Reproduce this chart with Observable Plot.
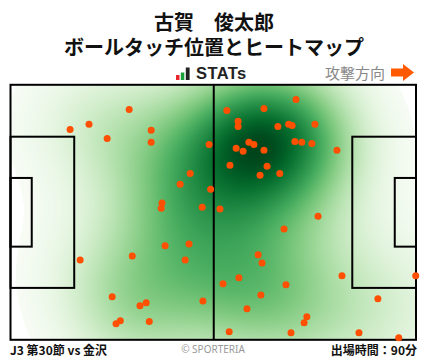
<!DOCTYPE html>
<html><head><meta charset="utf-8">
<script src="https://cdn.jsdelivr.net/npm/d3@7"></script>
<script src="https://cdn.jsdelivr.net/npm/@observablehq/plot@0.6"></script>
<style>
body{margin:0;background:#fff;font-family:"Noto Sans CJK JP","Noto Sans",sans-serif;}
#wrap{position:relative;width:428px;height:359px;overflow:hidden;background:#fff;}
.t{position:absolute;left:0;top:9px;width:428px;text-align:center;font-weight:700;font-size:20px;line-height:25px;color:#111;white-space:nowrap;}
#statsIcon{position:absolute;left:176px;top:66px;}
#statsText{position:absolute;left:196px;top:64px;font-family:"Liberation Sans",Arial,sans-serif;font-weight:700;font-size:16.5px;line-height:18px;letter-spacing:0.4px;color:#222;}
#dir{position:absolute;left:325px;top:63px;font-size:15px;line-height:19px;color:#888;}
#arrow{position:absolute;left:389px;top:62px;}
#chart{position:absolute;left:0;top:80px;}
.foot{position:absolute;top:342px;font-size:12px;line-height:15px;font-weight:700;color:#111;white-space:nowrap;}
#copy{position:absolute;top:343px;left:0;width:426px;text-align:center;font-family:"Noto Sans","DejaVu Sans",sans-serif;font-size:10px;line-height:13px;color:#999;}
</style></head>
<body><div id="wrap">
<div class="t">古賀　俊太郎<br>ボールタッチ位置とヒートマップ</div>
<svg id="statsIcon" width="15" height="15"><rect x="0" y="9" width="3.5" height="5" fill="#e8262b"/><rect x="4.8" y="6.5" width="3.5" height="7.5" fill="#1aa03c"/><rect x="9.8" y="1.5" width="3.8" height="12.5" fill="#222"/></svg>
<div id="statsText">STATs</div>
<div id="dir">攻撃方向</div>
<svg id="arrow" width="27" height="22"><polygon points="2,6.5 14,6.5 14,2 25,10.5 14,19 14,14.5 2,14.5" fill="#ff5a00"/></svg>
<div id="chart"></div>
<div class="foot" style="left:10px">J3 第30節 vs 金沢</div>
<div id="copy">© SPORTERIA</div>
<div class="foot" style="right:11px">出場時間：90分</div>
</div>
<script>
// Ball touch locations (pitch metres: x 0-105 attacking left→right, y 0-68 from top touchline)
const touchX = [30.6,15.3,20.2,24.9,36.3,36.3,51.3,46.4,43.8,51.7,39.1,38.9,49.5,
  73.8,55.9,65.5,58.8,58.8,69.1,71.9,72.8,78.7,61.6,62.9,58.3,60.1,65.5,73.5,75.3,77.9,84.4,
  56.7,66.3,64.5,69.6,54.1,79.5,39.9,46.1,17.9,31.4,45.1,26.2,33.4,35.0,49.7,28.3,27.2,35.8,
  70.7,64.0,65.0,54.9,59.0,71.2,64.7,85.7,104.8,95.0,61.1,76.6,75.9,56.5,72.5,90.1,100.4];
const touchY = [6.45,11.8,10.4,14.2,12.0,15.2,15.8,23.5,26.4,27.7,31.4,32.8,32.5,
  3.8,6.7,6.2,9.6,11.0,11.0,10.4,10.7,10.4,15.2,15.8,16.8,17.6,17.3,15.0,15.2,15.5,17.3,
  21.3,21.6,24.0,23.5,33.0,34.9,42.8,42.3,46.6,45.5,46.6,56.4,58.8,58.0,57.5,62.8,63.6,63.0,
  38.3,45.2,47.4,52.9,51.3,53.2,55.9,50.8,50.8,56.9,59.6,61.7,63.3,65.7,66.0,66.0,67.3];

// Pitch markings (metres)
const pitchLength = 105, pitchWidth = 68;
const pitchBoxes = [
  {x1:0, x2:105, y1:0, y2:68},
  {x1:0, x2:16.5, y1:13.84, y2:54.16},
  {x1:88.5, x2:105, y1:13.84, y2:54.16},
  {x1:0, x2:5.5, y1:24.84, y2:43.16},
  {x1:99.5, x2:105, y1:24.84, y2:43.16}
];
const halfwayLine = [52.5];
const bwAdjust = 1.25;

// Gaussian KDE (Scott's rule, full covariance)
const n = touchX.length;
const mx = d3.mean(touchX), my = d3.mean(touchY);
let sxx=0, syy=0, sxy=0;
for (let i=0;i<n;i++){const dx=touchX[i]-mx, dy=touchY[i]-my; sxx+=dx*dx; syy+=dy*dy; sxy+=dx*dy;}
sxx/=(n-1); syy/=(n-1); sxy/=(n-1);
const fac = Math.pow(n, -1/6)*bwAdjust;
const cxx=sxx*fac*fac, cyy=syy*fac*fac, cxy=sxy*fac*fac;
const det = cxx*cyy - cxy*cxy;
const ixx=cyy/det, iyy=cxx/det, ixy=-cxy/det;
const norm = 1/(n*2*Math.PI*Math.sqrt(det));
function kde(x,y){
  let s=0;
  for (let i=0;i<n;i++){const dx=x-touchX[i], dy=y-touchY[i]; s+=Math.exp(-0.5*(ixx*dx*dx+2*ixy*dx*dy+iyy*dy*dy));}
  return s*norm;
}
// iso-proportion threshold as in seaborn
const bwx=Math.sqrt(cxx), bwy=Math.sqrt(cyy);
const gx0=d3.min(touchX)-3*bwx, gx1=d3.max(touchX)+3*bwx, gy0=d3.min(touchY)-3*bwy, gy1=d3.max(touchY)+3*bwy;
const G=120, vals=[];
for (let a=0;a<G;a++) for (let b=0;b<G;b++) vals.push(kde(gx0+(gx1-gx0)*a/(G-1), gy0+(gy1-gy0)*b/(G-1)));
vals.sort((p,q)=>q-p);
const tot=d3.sum(vals);
let cum=0, dt=vals[vals.length-1];
for (let k=0;k<vals.length;k++){cum+=vals[k]; if (cum/tot>=0.97){dt=vals[k];break;}}
const dmax=vals[0];

const chart = Plot.plot({
  width: 428, height: 264,
  marginLeft: 10.5, marginRight: 12, marginTop: 4.8, marginBottom: 4.2,
  style: {background:"transparent", overflow:"visible"},
  x: {domain:[0,pitchLength], axis:null},
  y: {domain:[0,pitchWidth], axis:null, reverse:true},
  color: {type:"linear", scheme:"greens", domain:[dt, dmax], clamp:true},
  marks: [
    Plot.raster({x1:0, x2:pitchLength, y1:0, y2:pitchWidth, pixelSize:1,
      fill:(x,y)=>{const v=kde(x,y); return v>=dt ? v : null;}}),
    Plot.rect(pitchBoxes, {x1:"x1", x2:"x2", y1:"y1", y2:"y2", fill:"none", stroke:"#000", strokeWidth:2}),
    Plot.ruleX(halfwayLine, {y1:0, y2:pitchWidth, stroke:"#000", strokeWidth:2}),
    Plot.dot(touchX.map((x,i)=>({x, y:touchY[i]})), {x:"x", y:"y", r:3.5, fill:"#ff4f00", stroke:null})
  ]
});
document.getElementById("chart").appendChild(chart);
</script>
</body></html>
